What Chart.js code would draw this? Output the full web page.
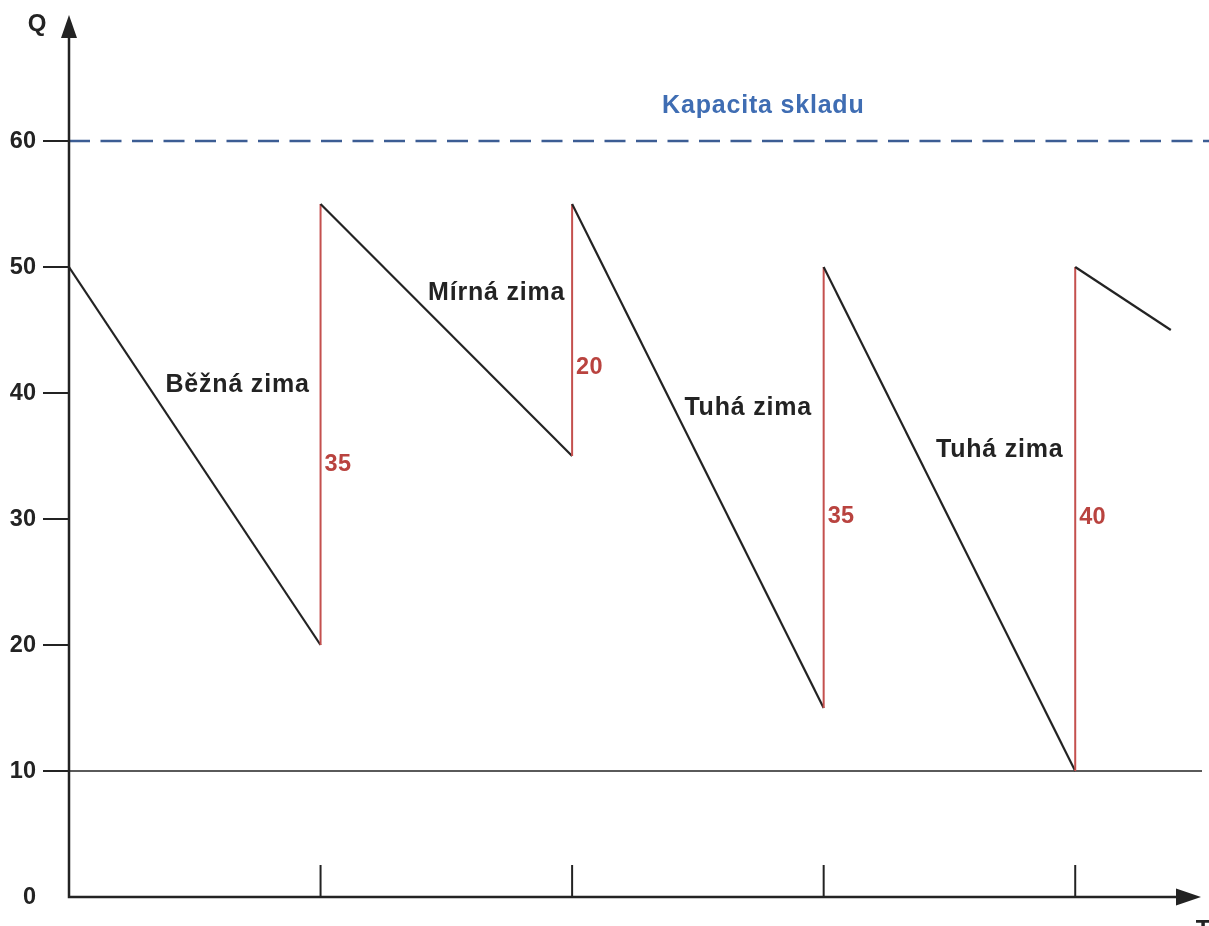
<!DOCTYPE html>
<html lang="cs">
<head>
<meta charset="utf-8">
<title>Zásoby v průběhu zim</title>
<script src="https://cdn.jsdelivr.net/npm/chart.js@4/dist/chart.umd.min.js"></script>
<style>
  html, body { margin: 0; padding: 0; background: #ffffff; }
  canvas { display: block; }
</style>
</head>
<body>
<canvas id="chart" width="1209" height="926"></canvas>
<script>
// Stock level Q over time T: consumption during each winter, deliveries at period ends
const startLevel = 50;
const deliveryTimes = [1, 2, 3, 4];
const levelBeforeDelivery = [20, 35, 15, 10];
const deliveryQty = [35, 20, 35, 40];
const endTime = 4.38;
const endLevel = 45;

const winterTypes = ['Běžná zima', 'Mírná zima', 'Tuhá zima', 'Tuhá zima'];
const yTickValues = [0, 10, 20, 30, 40, 50, 60];
const storageCapacity = 60;
const minimumStock = 10;
const capacityLabel = 'Kapacita skladu';

// Label anchors in data units (x = time, y = Q)
const winterLabelAnchors = [[0.67, 40.6], [1.70, 47.9], [2.70, 38.8], [3.70, 35.5]];
const qtyLabelLevels = [34.3, 42.0, 30.2, 30.1];
const capacityLabelAnchor = [2.76, 62.8];

// Sawtooth path: consumption falls, delivery jumps straight up
const stockPath = [{ x: 0, y: startLevel }];
deliveryTimes.forEach((t, i) => {
  stockPath.push({ x: t, y: levelBeforeDelivery[i] });
  stockPath.push({ x: t, y: levelBeforeDelivery[i] + deliveryQty[i] });
});
stockPath.push({ x: endTime, y: endLevel });

const INK = '#232323';
const RED = '#c4504e';
const RED_TEXT = '#b9433f';
const BLUE_TEXT = '#3f6db3';
const BLUE_DASH = '#3c5d94';
const FAMILY = '"Liberation Sans", Arial, sans-serif';
const NUM_FONT = 'bold 23.5px ' + FAMILY;
const TEXT_FONT = 'bold 25px ' + FAMILY;

const schemePlugin = {
  id: 'inventoryScheme',
  beforeDatasetsDraw(chart) {
    const { ctx, scales: { x, y } } = chart;
    const x0 = x.getPixelForValue(0);
    const xEnd = x.getPixelForValue(x.max);
    ctx.save();
    // storage capacity (dashed)
    const yc = y.getPixelForValue(storageCapacity);
    ctx.strokeStyle = BLUE_DASH;
    ctx.lineWidth = 2.5;
    ctx.setLineDash([21, 10.5]);
    ctx.beginPath();
    ctx.moveTo(x0, yc);
    ctx.lineTo(chart.width, yc);
    ctx.stroke();
    ctx.setLineDash([]);
    // minimum stock line
    const ym = y.getPixelForValue(minimumStock);
    ctx.strokeStyle = INK;
    ctx.lineWidth = 1.6;
    ctx.beginPath();
    ctx.moveTo(x0, ym);
    ctx.lineTo(xEnd + 1, ym);
    ctx.stroke();
    ctx.restore();
  },
  afterDatasetsDraw(chart) {
    const { ctx, scales: { x, y } } = chart;
    const x0 = x.getPixelForValue(0);
    const y0 = y.getPixelForValue(0);
    const xTip = x.getPixelForValue(x.max);
    const yTip = y.getPixelForValue(y.max);
    ctx.save();
    ctx.strokeStyle = INK;
    ctx.fillStyle = INK;

    // axes
    ctx.lineWidth = 2.5;
    ctx.beginPath();
    ctx.moveTo(x0, y0);
    ctx.lineTo(x0, yTip + 20);
    ctx.moveTo(x0 - 1.25, y0);
    ctx.lineTo(xTip - 20, y0);
    ctx.stroke();

    // arrow heads
    ctx.beginPath();
    ctx.moveTo(x0, yTip);
    ctx.lineTo(x0 - 8, yTip + 23);
    ctx.lineTo(x0 + 8, yTip + 23);
    ctx.closePath();
    ctx.fill();
    ctx.beginPath();
    ctx.moveTo(xTip, y0);
    ctx.lineTo(xTip - 25, y0 - 8.5);
    ctx.lineTo(xTip - 25, y0 + 8.5);
    ctx.closePath();
    ctx.fill();

    // y ticks and labels
    ctx.lineWidth = 2;
    ctx.font = NUM_FONT;
    ctx.textAlign = 'right';
    ctx.textBaseline = 'middle';
    ctx.letterSpacing = '0px';
    yTickValues.forEach(v => {
      const py = y.getPixelForValue(v);
      if (v > 0) {
        ctx.beginPath();
        ctx.moveTo(x0 - 26, py);
        ctx.lineTo(x0, py);
        ctx.stroke();
      }
      ctx.fillText(String(v), x0 - 33, py + 1);
    });

    // period marks on the time axis
    deliveryTimes.forEach(t => {
      const px = x.getPixelForValue(t);
      ctx.beginPath();
      ctx.moveTo(px, y0);
      ctx.lineTo(px, y0 - 32);
      ctx.stroke();
    });

    // axis names
    ctx.font = 'bold 24px ' + FAMILY;
    ctx.textAlign = 'center';
    ctx.fillText('Q', x0 - 32, yTip + 9);
    ctx.textBaseline = 'top';
    ctx.fillText('T', xTip + 2, y0 + 21);

    // winter labels
    ctx.font = TEXT_FONT;
    ctx.letterSpacing = '0.8px';
    ctx.textBaseline = 'middle';
    winterTypes.forEach((name, i) => {
      const [ax, ay] = winterLabelAnchors[i];
      ctx.fillText(name, x.getPixelForValue(ax), y.getPixelForValue(ay));
    });

    // capacity label
    ctx.fillStyle = BLUE_TEXT;
    ctx.fillText(capacityLabel, x.getPixelForValue(capacityLabelAnchor[0]), y.getPixelForValue(capacityLabelAnchor[1]));

    // delivered quantities
    ctx.font = NUM_FONT;
    ctx.fillStyle = RED_TEXT;
    ctx.textAlign = 'left';
    ctx.letterSpacing = '0.3px';
    deliveryTimes.forEach((t, i) => {
      ctx.fillText(String(deliveryQty[i]), x.getPixelForValue(t) + 4, y.getPixelForValue(qtyLabelLevels[i]));
    });
    ctx.restore();
  }
};

new Chart(document.getElementById('chart'), {
  type: 'scatter',
  data: {
    datasets: [{
      label: 'Q',
      data: stockPath,
      showLine: true,
      borderColor: INK,
      borderWidth: 2.2,
      pointRadius: 0,
      pointHoverRadius: 0,
      tension: 0,
      segment: {
        borderColor: c => (c.p0.parsed.x === c.p1.parsed.x ? RED : INK),
        borderWidth: c => (c.p0.parsed.x === c.p1.parsed.x ? 2 : 2.2)
      }
    }]
  },
  options: {
    responsive: false,
    animation: false,
    layout: { padding: { left: 69, right: 8, top: 15, bottom: 29 } },
    plugins: {
      legend: { display: false },
      tooltip: { enabled: false },
      title: { display: false }
    },
    scales: {
      x: { type: 'linear', min: 0, max: 4.5, display: false },
      y: { type: 'linear', min: 0, max: 70, display: false }
    }
  },
  plugins: [schemePlugin]
});
</script>
</body>
</html>
